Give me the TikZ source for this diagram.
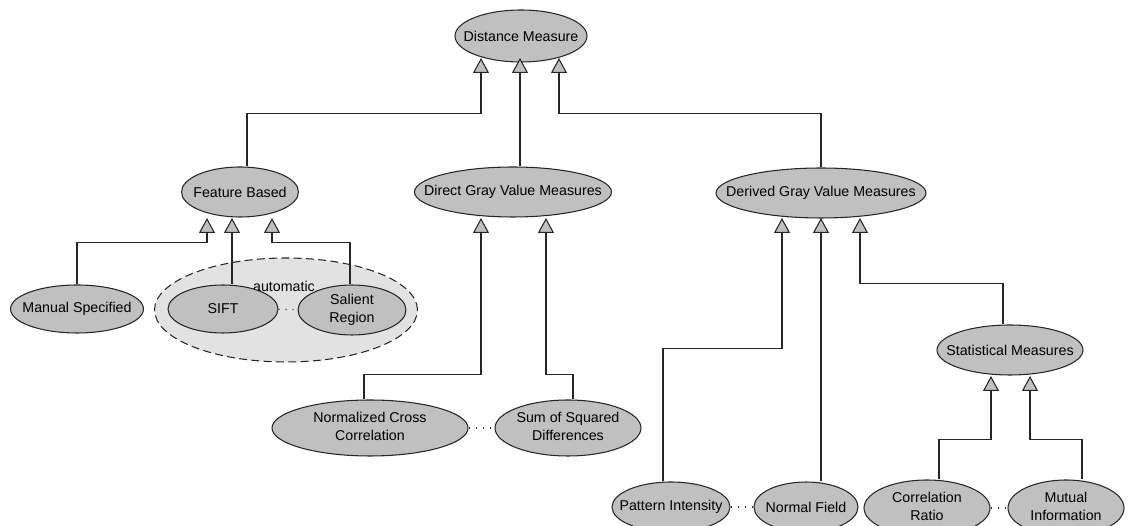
\documentclass[tikz,border=0pt]{standalone}
\usepackage{fontspec}
\setmainfont{Liberation Sans}
\usetikzlibrary{shapes.geometric,arrows.meta}
\definecolor{nodegray}{RGB}{192,192,192}
\definecolor{grpgray}{RGB}{226,226,226}
\newcommand{\lbl}[1]{\makebox[0pt]{#1}}
\newcommand{\twolbl}[2]{\makebox[0pt]{\begin{tabular}{@{}c@{}}#1\\#2\end{tabular}}}
\begin{document}
\begin{tikzpicture}
  [x=0.02cm,y=-0.02cm,line width=0.6pt,draw=black!85,
   every node/.style={ellipse,draw,fill=nodegray,inner sep=0pt,font=\fontsize{8.1}{10}\selectfont},
   isa/.style={-{Triangle[width=0.32cm,length=0.3cm,fill=nodegray]}},
   dots/.style={dash pattern=on 0.6pt off 3.4pt}]
  \useasboundingbox (0,0) rectangle (1137,526);
  \clip (0,0) rectangle (1137,526);
  % the automatic group
  \node (grp)[fill=grpgray,dash pattern=on 4.5pt off 2.5pt,minimum width=5.26cm,minimum height=2.08cm] at (286,310) {};
  \node (auto)[draw=none,fill=none] at (284,286) {automatic};
  % nodes
  \node (dm)[minimum width=2.64cm,minimum height=1.04cm] at (521,36) {\lbl{Distance Measure}};
  \node (fb)[minimum width=2.34cm,minimum height=1cm] at (240,192) {\lbl{Feature Based}};
  \node (dg)[minimum width=3.94cm,minimum height=1cm] at (513,192) {\lbl{Direct Gray Value Measures}};
  \node (dv)[minimum width=4.2cm,minimum height=1cm] at (821,193) {\lbl{Derived Gray Value Measures}};
  \node (ms)[minimum width=2.66cm,minimum height=0.96cm] at (77,309) {\lbl{Manual Specified}};
  \node (sift)[minimum width=2.2cm,minimum height=0.96cm] at (223,309) {\lbl{SIFT}};
  \node (sal)[minimum width=2.16cm,minimum height=1cm] at (352,310) {\twolbl{Salient}{Region}};
  \node (ncc)[minimum width=3.92cm,minimum height=1.12cm] at (370,428) {\twolbl{Normalized Cross}{Correlation}};
  \node (ssd)[minimum width=2.92cm,minimum height=1.12cm] at (568,428) {\twolbl{Sum of Squared}{Differences}};
  \node (st)[minimum width=2.92cm,minimum height=1cm] at (1010,350) {\lbl{Statistical Measures}};
  \node (pi)[minimum width=2.36cm,minimum height=1cm] at (671,507) {\lbl{Pattern Intensity}};
  \node (nf)[minimum width=2.08cm,minimum height=1cm] at (806,507) {\lbl{Normal Field}};
  \node (cr)[minimum width=2.52cm,minimum height=1.12cm] at (927,508) {\twolbl{Correlation}{Ratio}};
  \node (mi)[minimum width=2.32cm,minimum height=1.12cm] at (1066,508) {\twolbl{Mutual}{Information}};
  % arrow tips
  \coordinate (dm1) at (481,58);
  \coordinate (dm2) at (520,58);
  \coordinate (dm3) at (559,58);
  \coordinate (fb1) at (207,218);
  \coordinate (fb2) at (232,218);
  \coordinate (fb3) at (272,218);
  \coordinate (dg1) at (481,218);
  \coordinate (dg2) at (546,218);
  \coordinate (dv1) at (782,218);
  \coordinate (dv2) at (821,218);
  \coordinate (dv3) at (860,218);
  \coordinate (st1) at (991,376);
  \coordinate (st2) at (1030,376);
  % generalisation links
  \draw[isa] ([xshift=0.14cm]fb.north) -- ++(0,-53) -| (dm1);
  \draw[isa] (dm2 |- dg.north) -- (dm2);
  \draw[isa] (dv.north) -- ++(0,-54) -| (dm3);
  \draw[isa] (ms.north) -- ++(0,-42) -| (fb1);
  \draw[isa] (fb2 |- sift.north) -- (fb2);
  \draw[isa] ([xshift=-0.04cm]sal.north) -- ++(0,-42) -| (fb3);
  \draw[isa] ([xshift=-0.12cm]ncc.north) -- ++(0,-25) -| (dg1);
  \draw[isa] ([xshift=0.1cm]ssd.north) -- ++(0,-25) -| (dg2);
  \draw[isa] ([xshift=-0.16cm]pi.north) -- ++(0,-133) -| (dv1);
  \draw[isa] (dv2 |- nf.north) -- (dv2);
  \draw[isa] ([xshift=-0.14cm]st.north) -- ++(0,-41) -| (dv3);
  \draw[isa] ([xshift=0.24cm]cr.north) -- ++(0,-40) -| (st1);
  \draw[isa] ([xshift=0.32cm]mi.north) -- ++(0,-40) -| (st2);
  % siblings
  \foreach \from/\to in {sift/sal,ncc/ssd,pi/nf,cr/mi}
    \draw[dots] (\from) -- (\to);
\end{tikzpicture}
\end{document}
